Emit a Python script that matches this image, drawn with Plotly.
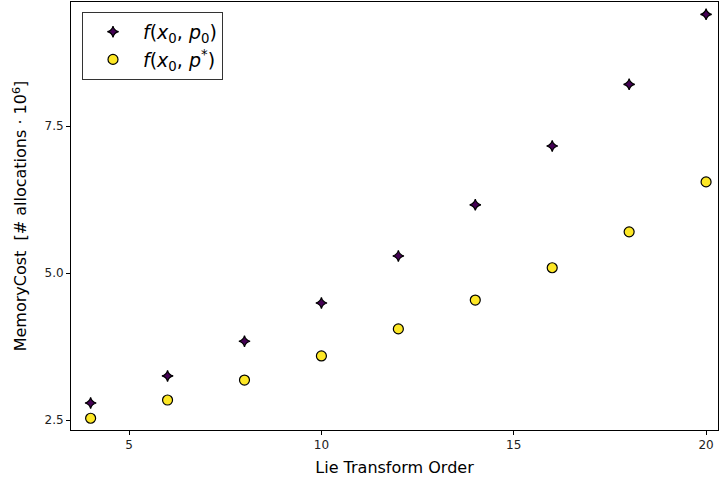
import plotly.graph_objects as go

orders = [4, 6, 8, 10, 12, 14, 16, 18, 20]
cost_p0 = [2.79, 3.25, 3.84, 4.49, 5.29, 6.16, 7.16, 8.21, 9.40]
cost_pstar = [2.53, 2.84, 3.18, 3.59, 4.05, 4.54, 5.09, 5.70, 6.55]
x_ticks = [5, 10, 15, 20]
y_ticks = [2.5, 5.0, 7.5]

fig = go.Figure()
fig.add_trace(go.Scatter(
    x=orders, y=cost_p0, mode="markers", cliponaxis=False,
    name="<i>f</i>(<i>x</i><sub>0</sub>, <i>p</i><sub>0</sub>)",
    marker=dict(symbol="star-diamond", size=8, color="#440154",
                line=dict(color="black", width=1.2)),
))
fig.add_trace(go.Scatter(
    x=orders, y=cost_pstar, mode="markers", cliponaxis=False,
    name="<i>f</i>(<i>x</i><sub>0</sub>, <i>p</i><sup>*</sup>)",
    marker=dict(symbol="circle", size=10, color="#fde725",
                line=dict(color="black", width=1.2)),
))

axis_common = dict(showline=True, linecolor="black", linewidth=1, mirror=True,
                   ticks="outside", ticklen=4, tickcolor="black",
                   showgrid=False, zeroline=False,
                   tickfont=dict(size=12, color="#222"))

fig.update_layout(
    width=719, height=481,
    margin=dict(l=71, r=1, t=2, b=51),
    paper_bgcolor="white", plot_bgcolor="white",
    font=dict(family="DejaVu Sans", color="black"),
    xaxis=dict(range=[3.49, 20.31], tickvals=x_ticks,
               title=dict(text="Lie Transform Order", font=dict(size=16), standoff=10),
               **axis_common),
    yaxis=dict(range=[2.33, 9.61], tickvals=y_ticks, tickformat=".1f",
               title=dict(text="MemoryCost  [# allocations \u00b7 10<sup>6</sup>]",
                          font=dict(size=16), standoff=13),
               **axis_common),
    legend=dict(x=0.017, y=0.977, xanchor="left", yanchor="top",
                bordercolor="#333", borderwidth=1, bgcolor="white",
                font=dict(size=19), itemsizing="trace", itemwidth=50,
                tracegroupgap=4),
    showlegend=True,
)

fig.write_html("out.html", config={"displayModeBar": False},
               post_script="document.body.style.margin='0px';")
